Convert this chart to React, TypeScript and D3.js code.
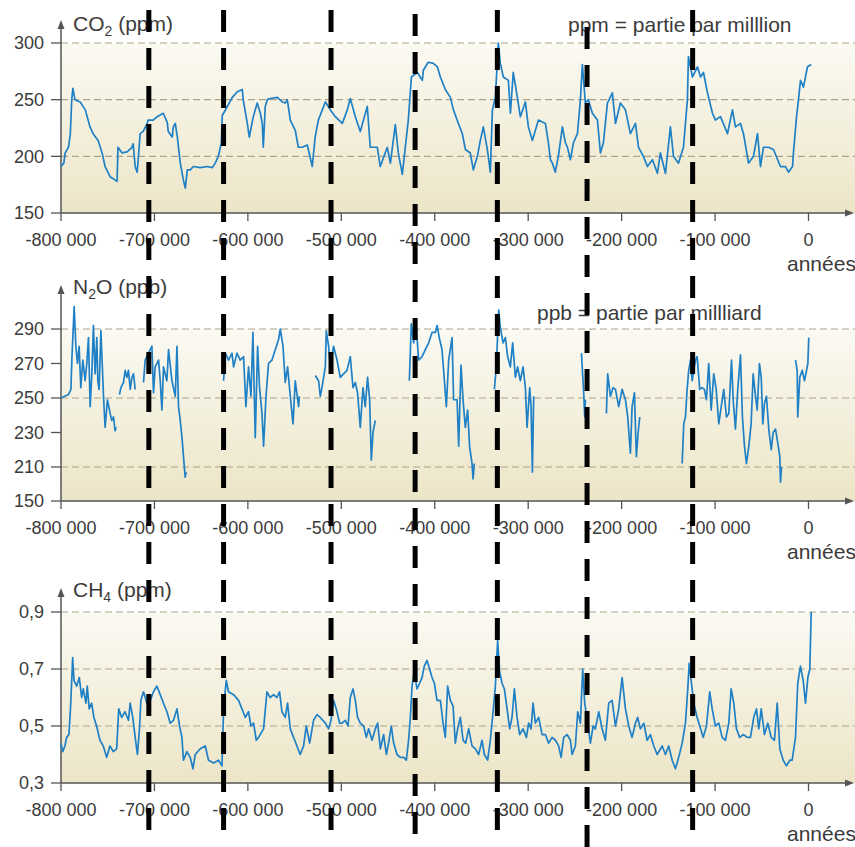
import React from 'react';
import * as d3 from 'd3';

// years are in thousands of years (kyr) before present
const xTicks = [-800, -700, -600, -500, -400, -300, -200, -100, 0];
const xTickLabels = ['-800 000', '-700 000', '-600 000', '-500 000', '-400 000', '-300 000', '-200 000', '-100 000', '0'];

const co2Ticks = [150, 200, 250, 300];
const co2Grid = [200, 250, 300];
const n2oTicks = [150, 210, 230, 250, 270, 290];
const n2oGrid = [210, 250, 290];
const ch4Ticks = [0.3, 0.5, 0.7, 0.9];
const ch4Grid = [0.5, 0.7, 0.9];

// vertical dashed markers (kyr)
const markers = [-706, -626, -511, -421, -333, -237, -124];

const co2: [number, number][] = [
  [-800, 191], [-797, 194], [-795.5, 203], [-792, 208], [-790, 220], [-788.5, 250], [-787.3, 260], [-785, 250],
  [-779.5, 248], [-774, 241], [-771, 232], [-769, 226], [-765.6, 220], [-760.3, 214], [-756, 203], [-752.8, 191],
  [-747.4, 182], [-742, 179], [-740, 178], [-739, 208], [-734.6, 203], [-729.3, 204], [-724, 208], [-722.8, 211],
  [-720.6, 191], [-718.5, 186], [-717.4, 197], [-715.3, 220], [-712, 222], [-707.8, 229], [-706.7, 232], [-701.3, 232],
  [-697, 235], [-690.6, 238], [-686.3, 230], [-685.2, 222], [-681, 217], [-679.8, 226], [-677.7, 229], [-675.5, 217],
  [-672.3, 194], [-669, 179], [-667, 172], [-664.8, 188], [-661.6, 188], [-658.4, 191], [-651, 190], [-643.4, 191],
  [-638, 190], [-635, 194], [-631.6, 200], [-628.4, 212], [-627.4, 236], [-622, 244], [-616.7, 252], [-611.3, 257],
  [-606, 259], [-605, 250], [-600.6, 229], [-598.5, 217], [-594.2, 235], [-590, 247], [-586.7, 238], [-584.6, 229],
  [-583.5, 208], [-581.4, 244], [-579.2, 250], [-576, 251], [-568.5, 252], [-563.2, 248], [-560, 247], [-557.8, 250],
  [-554.6, 232], [-549.3, 223], [-546, 208], [-541.8, 208], [-536.4, 210], [-531.1, 191], [-528, 217], [-524.6, 232],
  [-517, 248], [-511.8, 241], [-506.4, 235], [-499, 229], [-493.6, 241], [-490.4, 251], [-485, 235], [-479.7, 222],
  [-472.2, 244], [-469, 208], [-461.5, 208], [-458.3, 191], [-450.8, 208], [-447.5, 194], [-442.2, 228], [-439, 203],
  [-434.7, 184], [-431.5, 208], [-428.3, 232], [-425, 270], [-418.6, 274], [-413.3, 267], [-412.2, 276], [-407, 283],
  [-401.5, 282], [-397.2, 279], [-394, 270], [-388.7, 259], [-383.3, 252], [-380, 241], [-374.7, 229], [-370.5, 220],
  [-367.2, 206], [-362, 203], [-358.7, 188], [-354.4, 200], [-351.2, 214], [-348, 226], [-343.7, 206], [-340.5, 186],
  [-338.3, 241], [-335.1, 252], [-332, 300], [-329.8, 282], [-326.6, 270], [-321.2, 267], [-319, 238], [-316, 274],
  [-311.6, 252], [-308.4, 235], [-303, 248], [-299.8, 226], [-295.5, 214], [-292.3, 223], [-289, 232], [-281.6, 229],
  [-278.4, 212], [-276.2, 197], [-274.1, 194], [-271, 186], [-267.7, 200], [-263.4, 226], [-260.2, 212], [-258, 208],
  [-254.8, 197], [-251.6, 212], [-247.3, 220], [-244.1, 250], [-242, 281], [-238.8, 247], [-235.6, 250], [-231.3, 238],
  [-225.9, 232], [-222.7, 203], [-219.5, 212], [-215.2, 247], [-209.9, 256], [-206.6, 229], [-201.3, 247], [-195.9, 241],
  [-190.6, 220], [-185.2, 229], [-182, 208], [-176.7, 200], [-172.4, 191], [-167, 197], [-161.7, 185], [-158.5, 203],
  [-153.1, 185], [-147.8, 226], [-144.5, 200], [-139.2, 194], [-133.8, 208], [-129.6, 250], [-128.5, 288], [-124.2, 270],
  [-118.8, 279], [-115.6, 270], [-112.4, 274], [-108.1, 256], [-102.8, 238], [-99.6, 232], [-94.2, 235], [-86.7, 220],
  [-81.4, 241], [-78.2, 226], [-72.8, 229], [-69.6, 220], [-64.2, 194], [-58.9, 200], [-54.6, 220], [-51.4, 191],
  [-48.2, 208], [-42.8, 208], [-37.5, 206], [-30, 191], [-24.6, 191], [-21.4, 186], [-17.1, 191], [-16.1, 203],
  [-12.8, 235], [-10.7, 250], [-8.6, 267], [-5.4, 261], [-1.1, 279], [3, 281],
];

// null marks a gap in the record
const n2o: [number, number | null][] = [
  [-800, 250], [-792, 252], [-789.4, 255], [-788.4, 272], [-785.9, 303], [-784.1, 280], [-782.4, 270], [-780.6, 280],
  [-778.8, 256], [-776.6, 272], [-774.2, 260], [-772.4, 270], [-770.6, 285], [-768.8, 245], [-767, 264], [-765.3, 292],
  [-763.5, 264], [-761.7, 285], [-760.6, 260], [-759.2, 255], [-757.3, 289], [-755.9, 270], [-754.5, 251], [-752.8, 233],
  [-750.3, 249], [-747.4, 241], [-745.6, 237], [-743.8, 239], [-742.1, 231], [-741, 233],
  [-739, null],
  [-737.4, 252], [-735.9, 256], [-733.1, 259], [-731.3, 266], [-729.5, 262], [-727.8, 266], [-725.9, 255], [-724.1, 262],
  [-722.4, 264], [-720.6, 255],
  [-715, null],
  [-711.7, 259], [-709.9, 272], [-706.3, 276], [-702.7, 280], [-701, 253], [-699.2, 268], [-695.6, 272], [-693.8, 260],
  [-692, 243], [-690.3, 268], [-686.7, 260], [-684.9, 278], [-681.3, 260], [-677.7, 251], [-675.9, 280], [-674.2, 245],
  [-672.4, 237], [-670.5, 227], [-668.9, 216], [-667.1, 192], [-666, 201],
  [-640, null],
  [-626, 260], [-624.2, 276], [-620.7, 272], [-617, 276], [-615.3, 268], [-611.7, 276], [-608.2, 272], [-604.6, 274],
  [-602.1, 245], [-599.3, 268], [-596.7, 251], [-594.6, 288], [-592.1, 227], [-589.6, 280], [-587.5, 256], [-584.9, 241],
  [-583.2, 222], [-580.6, 251], [-577.9, 270], [-574.2, 272], [-570.7, 278], [-567.1, 284], [-565.3, 290], [-562.4, 280],
  [-560, 259], [-557.5, 268], [-554.6, 251], [-551.7, 235], [-549.3, 260], [-545.7, 245], [-544.9, 251],
  [-535, null],
  [-527.9, 263], [-524.3, 260], [-522.5, 251], [-520.7, 256], [-517.1, 268], [-516.1, 289], [-513.6, 280], [-511.8, 268],
  [-508.3, 280], [-504.6, 272], [-501.1, 262], [-497.6, 264], [-493.9, 266], [-490.4, 274], [-487.5, 256], [-485, 259],
  [-482.6, 253], [-479.7, 233], [-476.8, 256], [-474.4, 245], [-471.9, 262], [-469.7, 249], [-467.9, 214], [-466.1, 230],
  [-463.6, 237],
  [-440, null],
  [-427.2, 260], [-425.1, 293], [-422.6, 282], [-419.7, 291], [-417.3, 272], [-413.6, 274], [-410.1, 278], [-406.5, 282],
  [-402.9, 288], [-399.4, 288], [-397.5, 292], [-394.8, 284], [-392.2, 278], [-390.5, 266], [-387.6, 245], [-385.1, 272],
  [-381.5, 285], [-379.8, 249], [-376.1, 249], [-374.4, 222], [-371.9, 269], [-369.7, 249], [-367.3, 233], [-364.8, 243],
  [-362.7, 222], [-360.1, 212], [-359, 189], [-357.6, 212],
  [-345, null],
  [-336.2, 255], [-334.1, 268], [-331.6, 301], [-329.8, 291], [-326.9, 282], [-324.4, 285], [-322, 274], [-319.1, 268],
  [-316.6, 282], [-313.7, 262], [-311.3, 268], [-308.4, 260], [-305.5, 268], [-303, 256], [-301.2, 233], [-298.4, 256],
  [-296.9, 245], [-295.5, 201], [-294.1, 251],
  [-260, null],
  [-243, 276], [-240.6, 253], [-239.5, 239], [-238.8, 249],
  [-225, null],
  [-216.3, 241], [-214.9, 264], [-212, 251], [-209.1, 256], [-206.6, 255], [-203.1, 245], [-199.5, 255], [-195.9, 249],
  [-193.5, 239], [-190.6, 218], [-188.8, 245], [-186.3, 253], [-184.2, 216], [-182.3, 230], [-180.6, 239],
  [-150, null],
  [-135.2, 212], [-133.5, 235], [-131.7, 239], [-129.9, 255], [-128.2, 266], [-126.3, 272], [-124.5, 260], [-121, 272],
  [-119.2, 274], [-116.4, 255], [-113.8, 256], [-111.4, 255], [-109.2, 249], [-106.8, 270], [-104.2, 243], [-101.4, 264],
  [-98.8, 255], [-96, 235], [-93.4, 245], [-90.7, 255], [-87.8, 239], [-85.3, 241], [-82.4, 272], [-80.6, 249],
  [-78.2, 232], [-75.7, 255], [-72.8, 275], [-70.7, 239], [-68.5, 222], [-66.4, 212], [-63.9, 222], [-61.4, 235],
  [-59.2, 264], [-56.7, 251], [-54.9, 243], [-52.5, 270], [-50.6, 262], [-48.9, 235], [-47.1, 247], [-45, 251],
  [-42.5, 232], [-39.9, 220], [-37.8, 230], [-35.3, 232], [-32.9, 224], [-30.7, 216], [-30, 183], [-28.9, 210],
  [-20, null],
  [-13.9, 272], [-12.1, 266], [-11.5, 239], [-9.3, 262], [-6.7, 266], [-4.3, 260], [-2.1, 266], [-0.7, 270], [0.3, 285],
];

const ch4: [number, number][] = [
  [-800, 0.44], [-798.2, 0.41], [-795.8, 0.43], [-794, 0.46], [-791.5, 0.47], [-789.7, 0.57], [-787.5, 0.74], [-786.1, 0.66],
  [-783.2, 0.64], [-780.4, 0.67], [-777.9, 0.6], [-776.2, 0.63], [-773.3, 0.58], [-771.9, 0.64], [-769.8, 0.56], [-767.2, 0.58],
  [-764.8, 0.53], [-761.9, 0.5], [-758.3, 0.45], [-754.8, 0.43], [-751.1, 0.39], [-747.6, 0.43], [-744, 0.41], [-740.4, 0.42],
  [-738.2, 0.56], [-735, 0.53], [-731.5, 0.55], [-727.8, 0.52], [-726, 0.58], [-723.2, 0.53], [-720.6, 0.46], [-718.2, 0.4],
  [-716, 0.49], [-714.5, 0.59], [-711.7, 0.62], [-708.1, 0.58], [-704.5, 0.59], [-701, 0.62], [-697.4, 0.64], [-693.8, 0.61],
  [-690.3, 0.58], [-686.6, 0.55], [-683.1, 0.51], [-679.6, 0.52], [-675.9, 0.56], [-673.1, 0.5], [-670.6, 0.46], [-668.9, 0.38],
  [-665.3, 0.41], [-661.7, 0.39], [-658.8, 0.35], [-656.3, 0.4], [-651, 0.42], [-645.6, 0.43], [-642.1, 0.38], [-636.7, 0.37],
  [-631.4, 0.38], [-627.7, 0.36], [-626, 0.56], [-623.1, 0.66], [-620.7, 0.62], [-615.3, 0.61], [-610, 0.59], [-606.3, 0.56],
  [-602.8, 0.53], [-599.3, 0.55], [-596.7, 0.5], [-593.9, 0.51], [-591, 0.45], [-588.6, 0.46], [-583.2, 0.49], [-579.6, 0.62],
  [-576.1, 0.6], [-572.5, 0.61], [-568.9, 0.6], [-566.1, 0.62], [-563.5, 0.55], [-560, 0.53], [-557.5, 0.58], [-554.6, 0.49],
  [-551.1, 0.46], [-547.5, 0.43], [-544, 0.4], [-540.4, 0.43], [-537.5, 0.5], [-533.9, 0.44], [-529.7, 0.52], [-526, 0.54],
  [-522.5, 0.53], [-517.1, 0.51], [-513.6, 0.49], [-511, 0.52], [-508.3, 0.59], [-505.4, 0.56], [-501.8, 0.51], [-499.3, 0.51],
  [-495.7, 0.52], [-492.8, 0.5], [-490.4, 0.6], [-487.5, 0.63], [-485, 0.59], [-482.6, 0.53], [-479.7, 0.51], [-476.1, 0.5],
  [-473.2, 0.46], [-470.8, 0.49], [-467.1, 0.45], [-463.6, 0.49], [-461.1, 0.51], [-458.2, 0.42], [-454.7, 0.47], [-451.8, 0.4],
  [-449.4, 0.44], [-446.5, 0.5], [-444, 0.44], [-440.4, 0.4], [-436.9, 0.39], [-433.3, 0.39], [-430.4, 0.38], [-428, 0.45],
  [-426.1, 0.53], [-424.3, 0.64], [-421.9, 0.69], [-419, 0.63], [-416.2, 0.65], [-413.6, 0.67], [-411.2, 0.71], [-408.3, 0.73],
  [-405.5, 0.7], [-402.9, 0.67], [-400.4, 0.65], [-397.6, 0.59], [-394, 0.59], [-391.1, 0.51], [-388.7, 0.46], [-386.2, 0.64],
  [-383.3, 0.59], [-380.4, 0.57], [-378, 0.44], [-375.5, 0.49], [-372.6, 0.53], [-369.7, 0.45], [-366.9, 0.44], [-363.7, 0.49],
  [-360.1, 0.43], [-356.5, 0.42], [-353, 0.4], [-349.4, 0.45], [-346.9, 0.4], [-343.4, 0.38], [-340.5, 0.45], [-337.6, 0.55],
  [-335.1, 0.64], [-332.7, 0.8], [-330.5, 0.69], [-328, 0.65], [-325.5, 0.63], [-322.6, 0.56], [-319.8, 0.49], [-317.3, 0.53],
  [-314.8, 0.63], [-311.9, 0.53], [-309.1, 0.47], [-305.5, 0.49], [-301.9, 0.46], [-299.5, 0.51], [-296.9, 0.49], [-294.8, 0.58],
  [-292.3, 0.51], [-288.8, 0.53], [-285.1, 0.47], [-281.6, 0.47], [-278.1, 0.44], [-274.4, 0.46], [-270.9, 0.45], [-267.4, 0.43],
  [-264.8, 0.39], [-262, 0.46], [-258.4, 0.47], [-254.8, 0.45], [-253, 0.4], [-249.5, 0.43], [-247, 0.55], [-244.1, 0.51],
  [-241.7, 0.7], [-239.5, 0.58], [-236.3, 0.51], [-233.4, 0.44], [-230.5, 0.5], [-228.1, 0.49], [-224.5, 0.55], [-220.9, 0.49],
  [-217.4, 0.45], [-213.8, 0.58], [-210.2, 0.59], [-206.6, 0.5], [-203.1, 0.56], [-199.5, 0.67], [-195.9, 0.56], [-192.4, 0.5],
  [-188.8, 0.46], [-185.2, 0.51], [-182.8, 0.53], [-179.9, 0.49], [-176.3, 0.51], [-172.7, 0.45], [-169.2, 0.47], [-165.6, 0.43],
  [-162, 0.4], [-156.6, 0.43], [-153.1, 0.4], [-149.6, 0.43], [-145.9, 0.38], [-142.4, 0.35], [-138.9, 0.39], [-135.2, 0.44],
  [-131.7, 0.51], [-129.2, 0.63], [-127.7, 0.72], [-125.6, 0.66], [-122.8, 0.58], [-119.2, 0.53], [-116.4, 0.5], [-112.7, 0.46],
  [-109.2, 0.5], [-105.7, 0.62], [-103.1, 0.56], [-99.6, 0.5], [-96, 0.51], [-92.4, 0.46], [-88.9, 0.45], [-85.3, 0.51],
  [-82.8, 0.63], [-80, 0.58], [-77.1, 0.49], [-73.6, 0.46], [-69.9, 0.47], [-65.6, 0.46], [-62.1, 0.46], [-58.6, 0.53],
  [-55.7, 0.56], [-53.2, 0.49], [-50.6, 0.56], [-47.1, 0.47], [-43.6, 0.51], [-39.9, 0.46], [-36.4, 0.45], [-33.5, 0.58],
  [-30.7, 0.42], [-27.1, 0.38], [-23.6, 0.36], [-20, 0.38], [-17.5, 0.38], [-13.9, 0.46], [-11.5, 0.65], [-8.6, 0.71],
  [-5.7, 0.66], [-3.2, 0.58], [-0.7, 0.67], [1.4, 0.7], [2.9, 0.9],
];

const W = 855;
const H = 847;
const LEFT = 61;
const FONT = '"Liberation Sans", Arial, sans-serif';
const TXT = '#3b3b3b';
const AXIS = '#555';

const x = d3.scaleLinear().domain([-800, 0]).range([LEFT, 808.5]);

type PanelProps = {
  id: string;
  y: d3.ScaleLinear<number, number>;
  ticks: number[];
  grid: number[];
  fmt: (v: number) => string;
  data: [number, number | null][];
  axisY: number;
  gridTop: number;
  arrowTop: number;
  name: string;
  sub: string;
  post?: string;
  unit: string;
  titleY: number;
  note?: string;
  noteX?: number;
  noteY?: number;
};

function Panel(p: PanelProps) {
  const line = d3.line<[number, number | null]>()
    .defined(d => d[1] != null)
    .x(d => x(d[0]))
    .y(d => p.y(d[1] as number));

  return (
    <g>
      <defs>
        <linearGradient id={p.id} x1="0" y1="0" x2="0" y2="1">
          <stop offset="0" stopColor="#fbfaf3" />
          <stop offset="1" stopColor="#ece5c7" />
        </linearGradient>
      </defs>
      <rect x={LEFT} y={p.gridTop} width={W - LEFT} height={p.axisY - p.gridTop} fill={`url(#${p.id})`} />
      {p.grid.map(g => (
        <line key={g} x1={LEFT} x2={W} y1={p.y(g)} y2={p.y(g)}
          stroke="#aaa38c" strokeWidth={1.2} strokeDasharray="7 4" />
      ))}

      {/* y axis */}
      <line x1={LEFT} x2={LEFT} y1={p.axisY} y2={p.arrowTop + 4} stroke={AXIS} strokeWidth={1.5} />
      <path d={`M${LEFT},${p.arrowTop} l-3.5,9 l7,0 z`} fill={AXIS} />
      {p.ticks.map(t => (
        <g key={t}>
          <line x1={LEFT - 10} x2={LEFT} y1={p.y(t)} y2={p.y(t)} stroke={AXIS} strokeWidth={1.3} />
          <text x={44} y={p.y(t)} dy="0.36em" textAnchor="end" fontSize={18} fill={TXT}>{p.fmt(t)}</text>
        </g>
      ))}

      {/* x axis */}
      <line x1={LEFT} x2={W - 5} y1={p.axisY} y2={p.axisY} stroke={AXIS} strokeWidth={1.5} />
      <path d={`M${W - 1},${p.axisY} l-9,-3.5 l0,7 z`} fill={AXIS} />
      {xTicks.map((t, i) => (
        <g key={t}>
          <line x1={x(t)} x2={x(t)} y1={p.axisY} y2={p.axisY + 8} stroke={AXIS} strokeWidth={1.3} />
          <text x={x(t)} y={p.axisY + 33} textAnchor="middle" fontSize={18} fill={TXT}>{xTickLabels[i]}</text>
        </g>
      ))}
      <text x={787} y={p.axisY + 58} fontSize={21} fill={TXT}>années</text>

      <path d={line(p.data) || ''} fill="none" stroke="#1f80c6" strokeWidth={1.7} strokeLinejoin="round" />

      <text x={73} y={p.titleY} fontSize={21} fill={TXT}>
        {p.name}<tspan fontSize={14} dy={5}>{p.sub}</tspan><tspan dy={-5}>{p.post || ''} ({p.unit})</tspan>
      </text>
      {p.note && <text x={p.noteX} y={p.noteY} fontSize={21} fill={TXT}>{p.note}</text>}
    </g>
  );
}

export default function App() {
  const yCo2 = d3.scaleLinear().domain([150, 300]).range([213, 43]);
  // broken axis: 150 sits right below 210
  const yN2o = d3.scaleLinear().domain([150, 210, 290]).range([501, 467, 329]);
  const yCh4 = d3.scaleLinear().domain([0.3, 0.9]).range([783, 612]);

  const dashTop = [10, 10, 10, 14, 10, 27, 10];
  const dashBottom = [838, 838, 838, 838, 838, 847, 838];

  return (
    <svg width={W} height={H} style={{ position: 'absolute', left: 0, top: 0, fontFamily: FONT }}>
      <rect width={W} height={H} fill="#fff" />
      <Panel id="g1" y={yCo2} ticks={co2Ticks} grid={co2Grid} fmt={d3.format('d')} data={co2}
        axisY={213} gridTop={43} arrowTop={20} name="CO" sub="2" unit="ppm" titleY={31}
        note="ppm = partie par milllion" noteX={568} noteY={32} />
      <Panel id="g2" y={yN2o} ticks={n2oTicks} grid={n2oGrid} fmt={d3.format('d')} data={n2o}
        axisY={501} gridTop={329} arrowTop={285} name="N" sub="2" post="O" unit="ppb" titleY={294}
        note="ppb = partie par millliard" noteX={537} noteY={320} />
      <Panel id="g3" y={yCh4} ticks={ch4Ticks} grid={ch4Grid} fmt={v => d3.format('.1f')(v).replace('.', ',')}
        data={ch4} axisY={783} gridTop={612} arrowTop={588} name="CH" sub="4" unit="ppm" titleY={597} />
      {markers.map((m, i) => (
        <line key={m} x1={x(m)} x2={x(m)} y1={dashTop[i]} y2={dashBottom[i]}
          stroke="#000" strokeWidth={5} strokeDasharray="22 16" />
      ))}
    </svg>
  );
}
